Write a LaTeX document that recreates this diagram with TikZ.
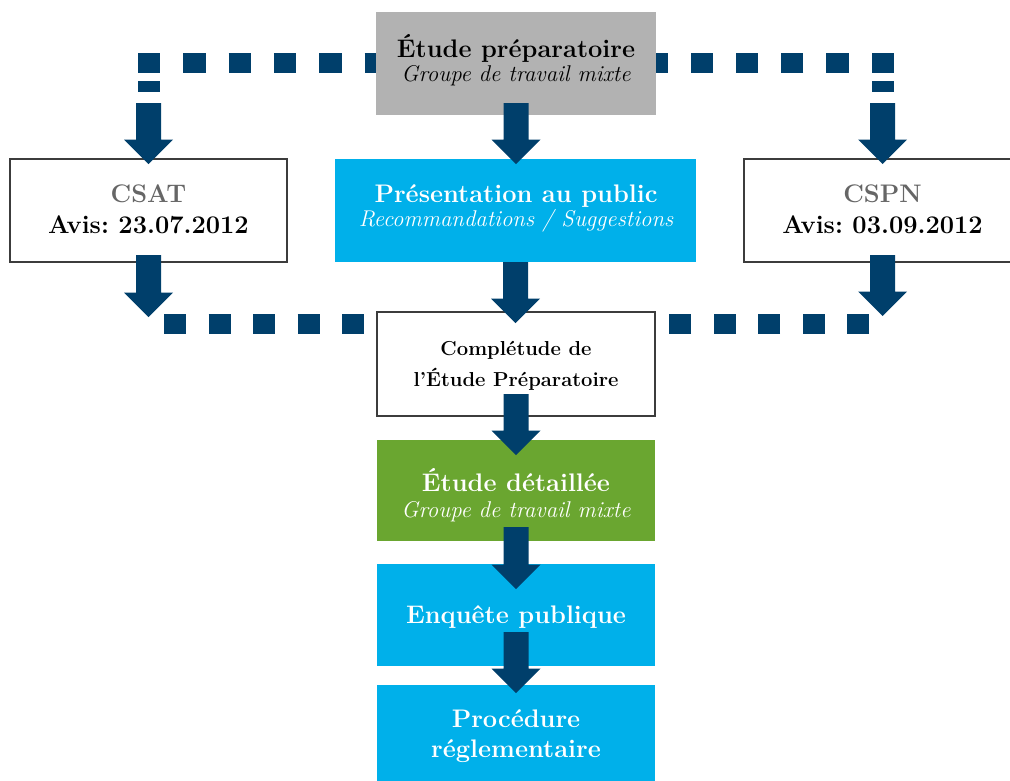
\documentclass[tikz,border=0pt]{standalone}
\usetikzlibrary{calc}
\frenchspacing
\definecolor{navy}{RGB}{0,63,107}
\definecolor{cyanbox}{RGB}{0,176,234}
\definecolor{greenbox}{RGB}{106,166,48}
\definecolor{graybox}{RGB}{178,178,178}
\definecolor{graytext}{RGB}{102,102,102}
\definecolor{framecol}{RGB}{60,60,60}
\newcommand\ftBold{\fontsize{25.4}{28}\selectfont\bfseries}
\newcommand\ftItal{\fontsize{22.8}{26}\selectfont\itshape}
\newcommand\ftSmall{\fontsize{20.2}{24}\selectfont\bfseries}
\newcommand\blockarrow[2]{%
  \fill[navy] let \p1=#1, \p2=#2 in
   (\x1-12.5pt,\y1) -- (\x1+12.5pt,\y1) -- (\x1+12.5pt,\y2+24.5pt)
   -- (\x1+24.5pt,\y2+24.5pt) -- (\x1,\y2) -- (\x1-24.5pt,\y2+24.5pt)
   -- (\x1-12.5pt,\y2+24.5pt) -- cycle;}
\tikzset{
  box/.style={rectangle, inner sep=0pt, outer sep=0pt},
  framed/.style={box, draw=framecol, line width=1.2pt, fill=white},
  txt/.style={anchor=base, inner sep=0pt, outer sep=0pt},
  dotline/.style={navy, line width=20pt, line cap=butt, dash pattern=on 22.3pt off 23pt},
  dotlinelow/.style={navy, line width=20pt, line cap=butt, dash pattern=on 22pt off 22.5pt},
}
\begin{document}
\begin{tikzpicture}[x=1pt,y=1pt]
\useasboundingbox (0,0) rectangle (1010,-780);
% dotted connectors (behind boxes)
\coordinate (tl) at (138,-63);
\coordinate (tr) at (894,-63);
\coordinate (bl) at (164,-324);
\coordinate (br) at (869,-324);
\coordinate (tm) at (516,-63);
\coordinate (bm) at (516,-324);
\draw[dotline] (tl) -- (tm);
\draw[dotline] (tr) -- (tm);
\draw[dotlinelow] (bl) -- (bm);
\draw[dotlinelow] (br) -- (bm);
\fill[navy] (138,-81) rectangle (160,-92);
\fill[navy] (872,-81) rectangle (894,-92);
% boxes
\node[box, fill=graybox, minimum width=280, minimum height=103] (gray) at (516,-63.5) {};
\node[box, fill=cyanbox, minimum width=361, minimum height=103] (pres) at (515.5,-210.5) {};
\node[framed, minimum width=277, minimum height=103] (csat) at (148.5,-210.5) {};
\node[framed, minimum width=277, minimum height=103] (cspn) at (882.5,-210.5) {};
\node[framed, minimum width=278, minimum height=104] (comp) at (516,-364) {};
\node[box, fill=greenbox, minimum width=278, minimum height=101] (green) at (516,-490.5) {};
\node[box, fill=cyanbox, minimum width=278, minimum height=102] (enq) at (516,-615) {};
\node[box, fill=cyanbox, minimum width=278, minimum height=102] (proc) at (516,-736) {};
% texts
\node[txt, font=\ftBold] (g1) at (516,-57) {Étude préparatoire};
\node[txt, font=\ftItal] (g2) at (516,-81) {Groupe de travail mixte};
\node[txt, font=\ftBold, text=white] (p1) at (516,-202) {Présentation au public};
\node[txt, font=\ftItal, text=white] (p2) at (516,-226) {Recommandations / Suggestions};
\node[txt, font=\ftBold, text=graytext] (c1) at (148.5,-202) {CSAT};
\node[txt, font=\ftBold] (c2) at (148.5,-233) {Avis: 23.07.2012};
\node[txt, font=\ftBold, text=graytext] (n1) at (882.5,-202) {CSPN};
\node[txt, font=\ftBold] (n2) at (882.5,-233) {Avis: 03.09.2012};
\node[txt, font=\ftSmall] (m1) at (516,-355) {Complétude de};
\node[txt, font=\ftSmall] (m2) at (516,-386) {l’Étude Préparatoire};
\node[txt, font=\ftBold, text=white] (d1) at (516,-491) {Étude détaillée};
\node[txt, font=\ftItal, text=white] (d2) at (516,-517) {Groupe de travail mixte};
\node[txt, font=\ftBold, text=white] (e1) at (516,-623) {Enquête publique};
\node[txt, font=\ftBold, text=white] (r1) at (516,-727) {Procédure};
\node[txt, font=\ftBold, text=white] (r2) at (516,-757) {réglementaire};
% block arrows
\blockarrow{($(gray.south)+(0,12)$)}{($(pres.north)+(0,-5)$)}
\blockarrow{(pres.south)}{($(comp.north)+(0,-11)$)}
\blockarrow{($(comp.south)+(0,22)$)}{($(green.north)+(0,-15)$)}
\blockarrow{($(green.south)+(0,14)$)}{($(enq.north)+(0,-25)$)}
\blockarrow{($(enq.south)+(0,34)$)}{($(proc.north)+(0,-8)$)}
\blockarrow{($(csat.north)+(0,56)$)}{($(csat.north)+(0,-5)$)}
\blockarrow{($(cspn.north)+(0,56)$)}{($(cspn.north)+(0,-5)$)}
\blockarrow{($(csat.south)+(0,7)$)}{($(csat.south)+(0,-55)$)}
\blockarrow{($(cspn.south)+(0,7)$)}{($(cspn.south)+(0,-54)$)}
\end{tikzpicture}
\end{document}
